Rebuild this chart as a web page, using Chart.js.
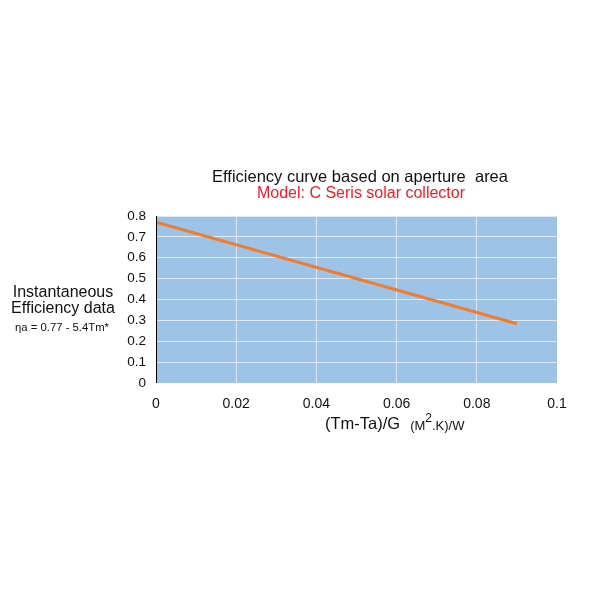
<!DOCTYPE html>
<html><head><meta charset="utf-8">
<script src="https://cdn.jsdelivr.net/npm/chart.js@4/dist/chart.umd.min.js"></script>
<style>html,body{margin:0;padding:0;background:#fff}#wrap{width:600px;height:600px}</style>
</head><body><div id="wrap"><canvas id="c" width="600" height="600"></canvas></div>
<script>
const xValues = [0, 0.09];
const yValues = [0.77, 0.284];
const xTicks = [0, 0.02, 0.04, 0.06, 0.08, 0.1];
const yTicks = [0, 0.1, 0.2, 0.3, 0.4, 0.5, 0.6, 0.7, 0.8];
const titleText = 'Efficiency curve based on aperture  area';
const subtitleText = 'Model: C Seris solar collector';
const yLabelLines = ['Instantaneous', 'Efficiency data'];
const formulaText = 'ηa = 0.77 - 5.4Tm*';
const xLabelMain = '(Tm-Ta)/G';

const FONT = '"Liberation Sans", Arial, sans-serif';
const points = xValues.map((x, i) => ({x, y: yValues[i]}));

const deco = {
  id: 'deco',
  beforeDraw(chart) {
    const {ctx, chartArea: a} = chart;
    ctx.save();
    ctx.fillStyle = '#9DC3E6';
    ctx.fillRect(a.left, a.top, a.right - a.left, a.bottom - a.top);
    ctx.restore();
  },
  afterDraw(chart) {
    const {ctx, chartArea: a} = chart;
    ctx.save();
    ctx.textBaseline = 'middle';
    ctx.textAlign = 'center';
    ctx.fillStyle = '#111';
    ctx.font = '16.5px ' + FONT;
    ctx.fillText(titleText, 360, 177);
    ctx.fillStyle = '#EE1C25';
    ctx.font = '16px ' + FONT;
    ctx.fillText(subtitleText, 361, 194);
    ctx.fillStyle = '#111';
    ctx.font = '16px ' + FONT;
    ctx.fillText(yLabelLines[0], 63, 293);
    ctx.fillText(yLabelLines[1], 63, 309);
    ctx.font = '11.3px ' + FONT;
    ctx.fillText(formulaText, 62, 328);
    ctx.textAlign = 'left';
    ctx.font = '16.5px ' + FONT;
    ctx.fillText(xLabelMain, 325, 424);
    let x = 325 + ctx.measureText(xLabelMain).width + 10;
    ctx.font = '13px ' + FONT;
    ctx.fillText('(M', x, 426);
    x += ctx.measureText('(M').width;
    ctx.font = '12px ' + FONT;
    ctx.fillText('2', x, 419);
    x += ctx.measureText('2').width;
    ctx.font = '13px ' + FONT;
    ctx.fillText('.K)/W', x, 426);
    ctx.strokeStyle = '#000';
    ctx.lineWidth = 1;
    ctx.beginPath();
    ctx.moveTo(a.left + 0.5, a.top);
    ctx.lineTo(a.left + 0.5, a.bottom);
    ctx.stroke();
    ctx.restore();
  }
};

new Chart(document.getElementById('c'), {
  type: 'line',
  data: {
    datasets: [{
      data: points,
      borderColor: '#ED7D31',
      borderWidth: 3,
      pointRadius: 0,
      fill: false,
      tension: 0
    }]
  },
  options: {
    responsive: false,
    animation: false,
    layout: {padding: {top: 216, right: 43, bottom: 187, left: 0}},
    plugins: {legend: {display: false}, tooltip: {enabled: false}},
    scales: {
      x: {
        type: 'linear', min: 0, max: 0.1,
        afterBuildTicks: s => { s.ticks = xTicks.map(v => ({value: v})); },
        afterFit: s => { s.height = 30; },
        ticks: {font: {family: FONT, size: 14}, color: '#111', padding: 13,
          callback: v => String(+v.toFixed(2)), maxRotation: 0, autoSkip: false},
        grid: {color: 'rgba(255,255,255,0.65)', drawTicks: false},
        border: {display: false}
      },
      y: {
        min: 0, max: 0.8,
        afterBuildTicks: s => { s.ticks = yTicks.map(v => ({value: v})); },
        afterFit: s => { s.width = 156; },
        ticks: {font: {family: FONT, size: 13.5}, color: '#111', padding: 10,
          callback: v => String(+v.toFixed(1)), autoSkip: false},
        grid: {color: 'rgba(255,255,255,0.65)', drawTicks: false},
        border: {display: false}
      }
    }
  },
  plugins: [deco]
});
</script></body></html>
